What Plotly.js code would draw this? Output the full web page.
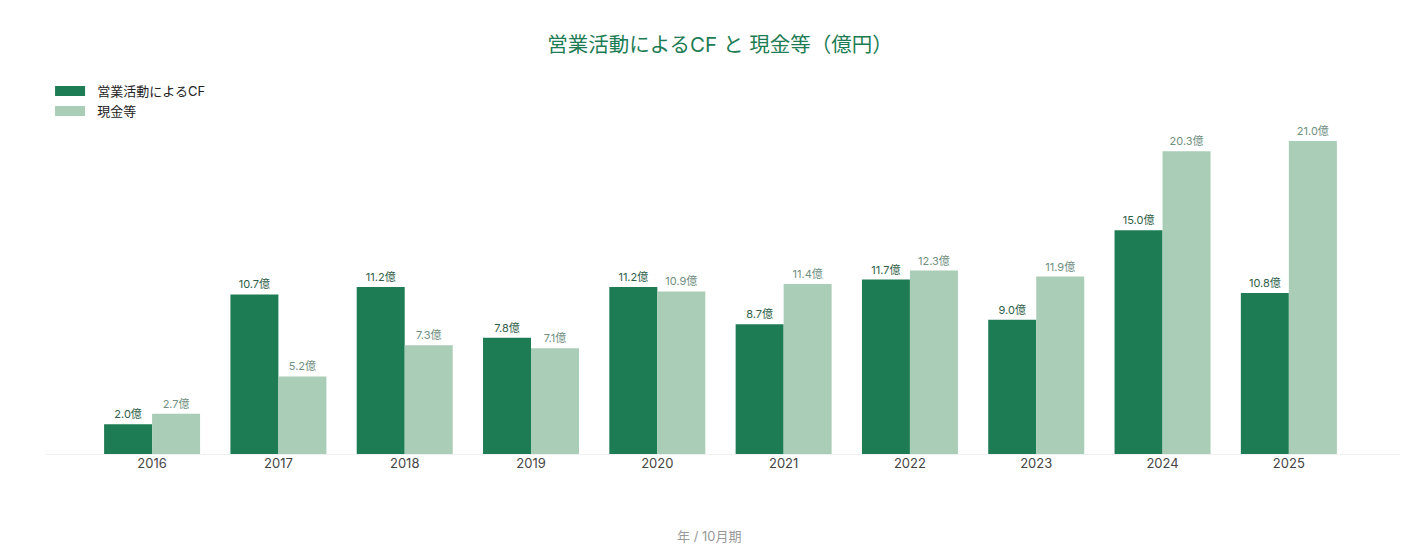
<!DOCTYPE html>
<html>
<head>
<meta charset="utf-8">
<script src="https://cdn.plot.ly/plotly-3.0.1.min.js"></script>
<style>
  html, body { margin: 0; padding: 0; background: #fff; }
  #chart { width: 1420px; height: 560px; }
</style>
</head>
<body>
<div id="chart"></div>
<script>
const years = ['2016', '2017', '2018', '2019', '2020', '2021', '2022', '2023', '2024', '2025'];
const operatingCF = [2.0, 10.7, 11.2, 7.8, 11.2, 8.7, 11.7, 9.0, 15.0, 10.8];
const cashEtc = [2.7, 5.2, 7.3, 7.1, 10.9, 11.4, 12.3, 11.9, 20.3, 21.0];
const seriesNames = ['営業活動によるCF', '現金等'];
const colors = ['#1d7c53', '#a9cdb6'];

const font = 'Inter, "Noto Sans CJK JP", sans-serif';

const fmt = v => v.toFixed(1) + '億';

const trace1 = {
  x: years,
  y: operatingCF,
  name: seriesNames[0],
  type: 'bar',
  marker: { color: colors[0] },
  text: operatingCF.map(fmt),
  textposition: 'outside',
  cliponaxis: false,
  textfont: { family: font, size: 11, color: '#2f5e48' },
  showlegend: false,
  hoverinfo: 'x+y',
};

const trace2 = {
  x: years,
  y: cashEtc,
  name: seriesNames[1],
  type: 'bar',
  marker: { color: colors[1] },
  text: cashEtc.map(fmt),
  textposition: 'outside',
  cliponaxis: false,
  textfont: { family: font, size: 11, color: '#6f8f7f' },
  showlegend: false,
  hoverinfo: 'x+y',
};

// legend-only entries, drawn as wide swatches (nbsp pads the label away from the swatch)
const legendTraces = seriesNames.map((name, i) => ({
  x: [null],
  y: [null],
  name: '\u00a0\u00a0' + name,
  type: 'scatter',
  mode: 'lines',
  line: { color: colors[i], width: 11 },
  hoverinfo: 'skip',
}));

const layout = {
  width: 1420,
  height: 560,
  paper_bgcolor: '#fff',
  plot_bgcolor: '#fff',
  font: { family: font, color: '#333' },
  margin: { l: 46, r: 20, t: 126, b: 106 },
  title: {
    text: '営業活動によるCF と 現金等（億円）',
    font: { family: font, size: 20.5, color: '#1d7c53' },
    x: 0.507,
    xanchor: 'center',
    y: 0.92,
    yanchor: 'middle',
  },
  barmode: 'group',
  bargap: 0.24,
  bargroupgap: 0,
  showlegend: true,
  legend: {
    x: 0.003,
    xanchor: 'left',
    y: 1.152,
    yanchor: 'top',
    orientation: 'v',
    itemwidth: 30,
    font: { family: font, size: 13, color: '#222' },
    bgcolor: 'rgba(0,0,0,0)',
  },
  xaxis: {
    type: 'category',
    range: [-0.84, 9.88],
    showgrid: false,
    showline: false,
    zeroline: false,
    ticks: '',
    tickfont: { family: font, size: 13, color: '#444' },
  },
  yaxis: {
    range: [0, 22],
    showgrid: false,
    showticklabels: false,
    zeroline: true,
    zerolinecolor: '#f0f0f0',
    zerolinewidth: 1,
    showline: false,
    ticks: '',
  },
  annotations: [{
    text: '年 / 10月期',
    xref: 'paper',
    yref: 'paper',
    x: 0.49,
    y: -0.25,
    xanchor: 'center',
    yanchor: 'middle',
    showarrow: false,
    font: { family: font, size: 13, color: '#999' },
  }],
};

Plotly.newPlot('chart', [trace1, trace2, ...legendTraces], layout, { displayModeBar: false });
</script>
</body>
</html>
